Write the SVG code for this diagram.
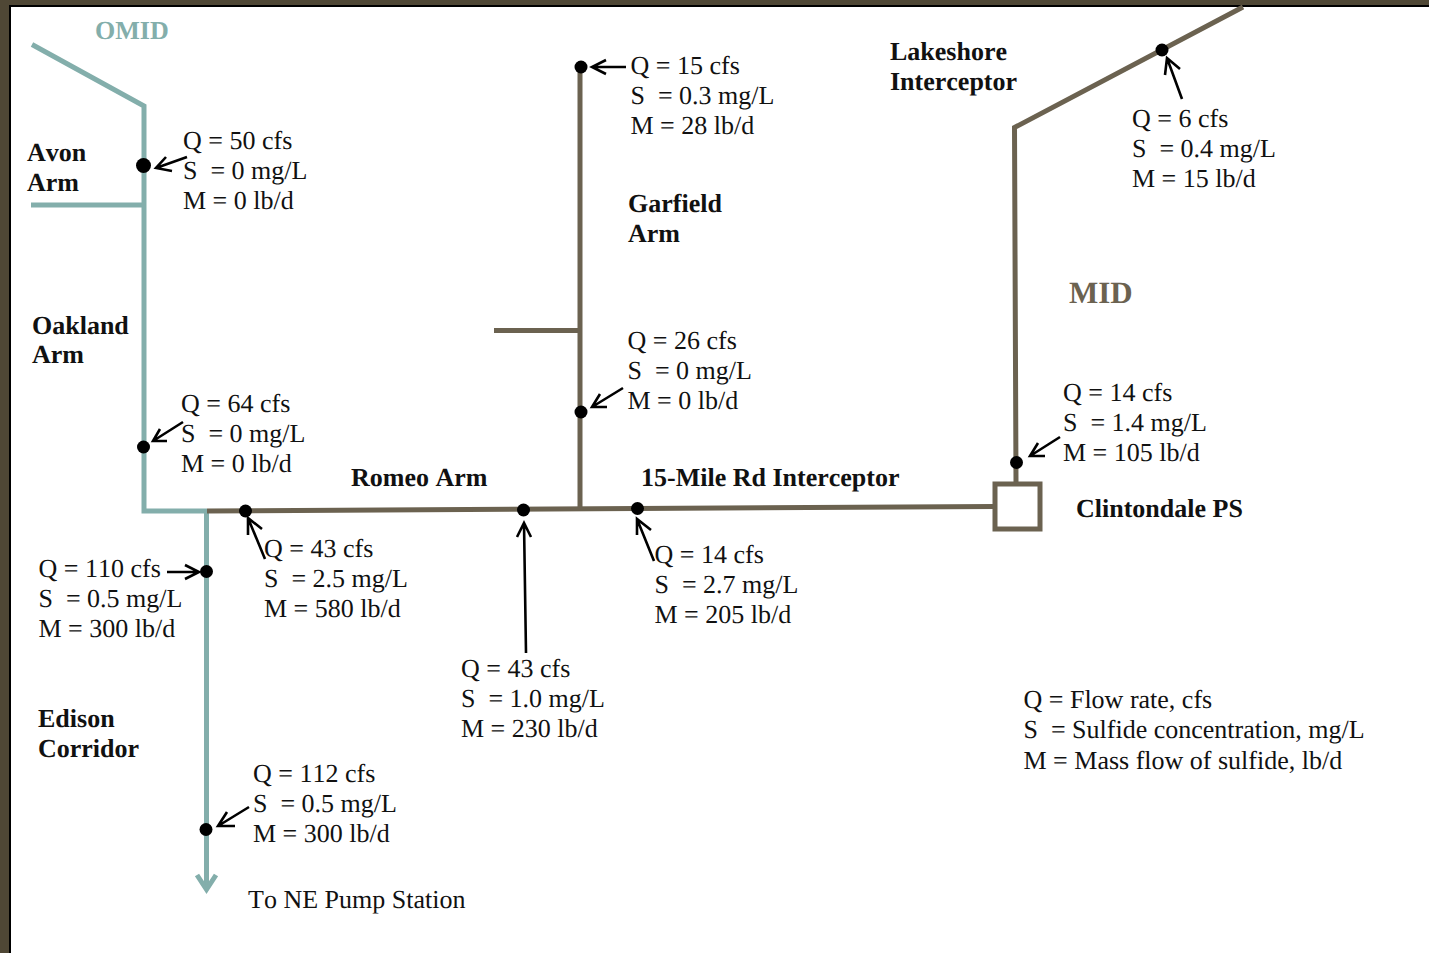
<svg xmlns="http://www.w3.org/2000/svg" width="1429" height="953" viewBox="0 0 1429 953">
<style>
text{font-family:"Liberation Serif","Times New Roman",serif;font-size:26px;fill:#111;white-space:pre;font-kerning:none;text-rendering:geometricPrecision}
.b{font-weight:bold}
.t{fill:none;stroke:#83aeab;stroke-width:5}
.m{fill:none;stroke:#6b6250;stroke-width:5}
.a{fill:none;stroke:#000;stroke-width:2.6}
.d{fill:#000}
</style>
<rect width="1429" height="953" fill="#fff"/>
<rect width="1429" height="5.500" fill="#4f4735"/>
<rect width="9" height="953" fill="#4f4735"/>
<rect x="9" y="5" width="1420" height="2" fill="#000"/>
<rect x="9" y="5" width="2" height="948" fill="#000"/>
<g id="connectors">
<path class="t" d="M32 44.500L144 106V511H207"/>
<path class="t" d="M31 205H144"/>
<path class="t" d="M206.500 511V888"/>
<path class="t" d="M197 875L206.500 889.500L216 875"/>
<path class="m" d="M207 511L994 506.500"/>
<path class="m" d="M580 67V508"/>
<path class="m" d="M494 330.500H580"/>
<path class="m" d="M1016 483L1014.500 127.500L1243 7"/>
<path class="a" d="M187 157L156 168M172 171L156 168L166 157"/>
<path class="a" d="M183 422L153 441M167 441L153 441L160 429"/>
<path class="a" d="M265 559L248 518M248 535L248 518L262 529"/>
<path class="a" d="M167 572H199M185 565L199 572L185 579"/>
<path class="a" d="M249 807L218 826M235 826L218 826L227 812"/>
<path class="a" d="M526 653L524 523M517 537L524 523L531 537"/>
<path class="a" d="M654 561L637 519M637 535L637 519L651 530"/>
<path class="a" d="M623 388L592 407M607 407L592 407L600 394"/>
<path class="a" d="M626 67H592M606 60L592 67L606 74"/>
<path class="a" d="M1182 99L1167 58M1165 75L1167 58L1180 69"/>
<path class="a" d="M1060 437L1030 456M1045 456L1030 456L1038 443"/>
</g>
<g id="dots">
<circle class="d" cx="143.500" cy="165.500" r="7.500"/>
<circle class="d" cx="143.500" cy="447" r="6.500"/>
<circle class="d" cx="245.500" cy="511" r="6.500"/>
<circle class="d" cx="206.500" cy="571.500" r="6.500"/>
<circle class="d" cx="206" cy="829.500" r="6.500"/>
<circle class="d" cx="523.500" cy="510" r="6.500"/>
<circle class="d" cx="637.500" cy="508.500" r="6.500"/>
<circle class="d" cx="581" cy="412" r="6.500"/>
<circle class="d" cx="581" cy="67" r="6.500"/>
<circle class="d" cx="1162" cy="50" r="6.500"/>
<circle class="d" cx="1016.500" cy="462.500" r="6.500"/>
</g>
<g id="clintondale-ps"><rect x="995" y="484" width="45" height="45" fill="#fff" stroke="#6b6250" stroke-width="5"/>
<text class="b" x="1076" y="517">Clintondale PS</text></g>
<g id="labels">
<text class="b" x="95" y="39" style="fill:#83aeab">OMID</text>
<text class="b" x="1069" y="303" style="fill:#6b6250;font-size:31px">MID</text>
<text class="b" x="27" y="161">Avon</text><text class="b" x="27" y="191">Arm</text>
<text class="b" x="32" y="334">Oakland</text><text class="b" x="32" y="363">Arm</text>
<text class="b" x="38" y="727">Edison</text><text class="b" x="38" y="757">Corridor</text>
<text class="b" x="351" y="486">Romeo Arm</text>
<text class="b" x="641" y="486">15-Mile Rd Interceptor</text>
<text class="b" x="628" y="212">Garfield</text><text class="b" x="628" y="242">Arm</text>
<text class="b" x="890" y="60">Lakeshore</text><text class="b" x="890" y="90">Interceptor</text>
<text x="248" y="908">To NE Pump Station</text>
</g>
<g id="data">
<text x="183" y="149">Q = 50 cfs</text><text x="183" y="179">S  = 0 mg/L</text><text x="183" y="209">M = 0 lb/d</text>
<text x="181" y="412">Q = 64 cfs</text><text x="181" y="442">S  = 0 mg/L</text><text x="181" y="472">M = 0 lb/d</text>
<text x="38.500" y="577">Q = 110 cfs</text><text x="38.500" y="607">S  = 0.5 mg/L</text><text x="38.500" y="637">M = 300 lb/d</text>
<text x="264" y="557">Q = 43 cfs</text><text x="264" y="587">S  = 2.5 mg/L</text><text x="264" y="617">M = 580 lb/d</text>
<text x="461" y="677">Q = 43 cfs</text><text x="461" y="707">S  = 1.0 mg/L</text><text x="461" y="737">M = 230 lb/d</text>
<text x="654.500" y="563">Q = 14 cfs</text><text x="654.500" y="593">S  = 2.7 mg/L</text><text x="654.500" y="623">M = 205 lb/d</text>
<text x="253" y="782">Q = 112 cfs</text><text x="253" y="812">S  = 0.5 mg/L</text><text x="253" y="842">M = 300 lb/d</text>
<text x="630.500" y="74">Q = 15 cfs</text><text x="630.500" y="104">S  = 0.3 mg/L</text><text x="630.500" y="134">M = 28 lb/d</text>
<text x="627.500" y="349">Q = 26 cfs</text><text x="627.500" y="379">S  = 0 mg/L</text><text x="627.500" y="409">M = 0 lb/d</text>
<text x="1132" y="127">Q = 6 cfs</text><text x="1132" y="157">S  = 0.4 mg/L</text><text x="1132" y="187">M = 15 lb/d</text>
<text x="1063" y="401">Q = 14 cfs</text><text x="1063" y="431">S  = 1.4 mg/L</text><text x="1063" y="461">M = 105 lb/d</text>
<text x="1023.500" y="708">Q = Flow rate, cfs</text><text x="1023.500" y="738">S  = Sulfide concentration, mg/L</text><text x="1023.500" y="769">M = Mass flow of sulfide, lb/d</text>
</g>
</svg>
